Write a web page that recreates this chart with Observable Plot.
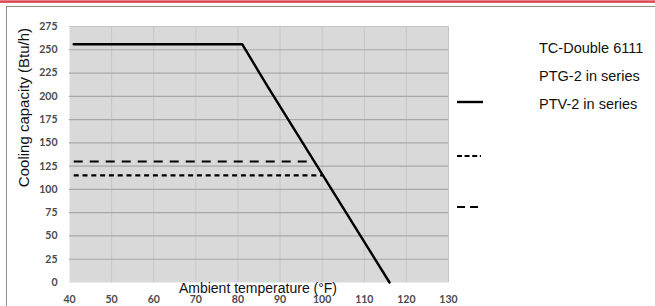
<!DOCTYPE html>
<html>
<head>
<meta charset="utf-8">
<script src="https://cdn.jsdelivr.net/npm/d3@7"></script>
<script src="https://cdn.jsdelivr.net/npm/@observablehq/plot@0.6"></script>
<style>
  html, body { margin: 0; padding: 0; background: #fff; }
  #wrap { position: relative; width: 655px; height: 306px; overflow: hidden; }
  #redline { position: absolute; left: 0; top: 0; width: 655px; height: 3px;
    background: linear-gradient(#f0b0b5, #d9404e 40%, #e26a74); }
  #box { position: absolute; left: 6px; top: 6px; width: 700px; height: 340px; border: 1px solid #8f8f8f; }
  #chart { position: absolute; left: 0; top: 0; }
  #chart svg { display: block; }
  #overlay { position: absolute; left: 0; top: 0; pointer-events: none; }
  #overlay text { font-family: "Liberation Sans", Arial, sans-serif; fill: #111; }
</style>
</head>
<body>
<div id="wrap">
  <div id="redline"></div>
  <div id="box"></div>
  <div id="chart"></div>
  <svg id="overlay" width="655" height="306"></svg>
</div>
<script>
// ---- data ----
const xTicks = [40, 50, 60, 70, 80, 90, 100, 110, 120, 130];
const yTicks = [0, 25, 50, 75, 100, 125, 150, 175, 200, 225, 250, 275];

const seriesNames = ["TC-Double 6111", "PTG-2 in series", "PTV-2 in series"];

// TC-Double 6111 (solid)
const tcTemp = [41, 81, 87, 116];
const tcCap  = [256, 256, 211, 0];
// PTG-2 in series (short dashes)
const ptgTemp = [41, 100];
const ptgCap  = [115, 115];
// PTV-2 in series (long dashes)
const ptvTemp = [41, 97];
const ptvCap  = [130, 130];

const xLabel = "Ambient temperature (°F)";
const yLabel = "Cooling capacity (Btu/h)";

const toRows = (xs, ys) => xs.map((x, i) => ({x, y: ys[i]}));
const tc = toRows(tcTemp, tcCap);
const ptg = toRows(ptgTemp, ptgCap);
const ptv = toRows(ptvTemp, ptvCap);

const plot = Plot.plot({
  width: 655,
  height: 306,
  marginLeft: 69,
  marginRight: 207,
  marginTop: 26,
  marginBottom: 24,
  x: {domain: [40, 130]},
  y: {domain: [0, 275]},
  style: {
    fontFamily: "Lato, 'Open Sans', sans-serif",
    fontSize: "10.5px",
    fontWeight: 700,
    color: "#4a4a4a",
    background: "transparent",
    overflow: "visible"
  },
  marks: [
    Plot.frame({fill: "#d9d9d9", stroke: null}),
    Plot.gridX(xTicks.slice(1), {stroke: "#c6c6c6", strokeOpacity: 1}),
    Plot.gridY(yTicks.slice(1, -1), {stroke: "#a8a8a8", strokeOpacity: 1, strokeWidth: 1.2}),
    Plot.gridY(yTicks.slice(-1), {stroke: "#c6c6c6", strokeOpacity: 1}),
    Plot.axisX(xTicks, {tickSize: 0, tickPadding: 13, label: null, tickFormat: d => String(d)}),
    Plot.axisY(yTicks, {tickSize: 0, tickPadding: 12, label: null, tickFormat: d => String(d)}),
    Plot.line(tc, {x: "x", y: "y", stroke: "#000", strokeWidth: 2.4}),
    Plot.line(ptv, {x: "x", y: "y", stroke: "#000", strokeWidth: 2.2, strokeDasharray: "9,7", strokeLinecap: "butt"}),
    Plot.line(ptg, {x: "x", y: "y", stroke: "#000", strokeWidth: 2.2, strokeDasharray: "5,3.8", strokeLinecap: "butt"})
  ]
});
document.getElementById("chart").appendChild(plot);

// ---- titles and legend (text kept as text) ----
const ov = d3.select("#overlay");
ov.append("text")
  .attr("x", 23).attr("y", 107.5)
  .attr("transform", "rotate(-90 23 107.5)")
  .attr("text-anchor", "middle")
  .attr("dominant-baseline", "central")
  .style("font-size", "15px")
  .text(yLabel);
ov.append("text")
  .attr("x", 258).attr("y", 292.5)
  .attr("text-anchor", "middle")
  .style("font-size", "14px")
  .text(xLabel);

const legendTextY = [53.3, 81.3, 109.3];
seriesNames.forEach((name, i) => {
  ov.append("text")
    .attr("x", 539).attr("y", legendTextY[i])
    .style("font-size", "14.5px")
    .text(name);
});
const swatches = [
  {y: 102, x2: 483, dash: null, w: 2.4},
  {y: 156, x2: 481, dash: "5,2.6", w: 2.2},
  {y: 207, x2: 481, dash: "8,5", w: 2.2}
];
swatches.forEach(s => {
  const l = ov.append("line")
    .attr("x1", 457).attr("x2", s.x2)
    .attr("y1", s.y).attr("y2", s.y)
    .attr("stroke", "#000").attr("stroke-width", s.w);
  if (s.dash) l.attr("stroke-dasharray", s.dash);
});
</script>
</body>
</html>
